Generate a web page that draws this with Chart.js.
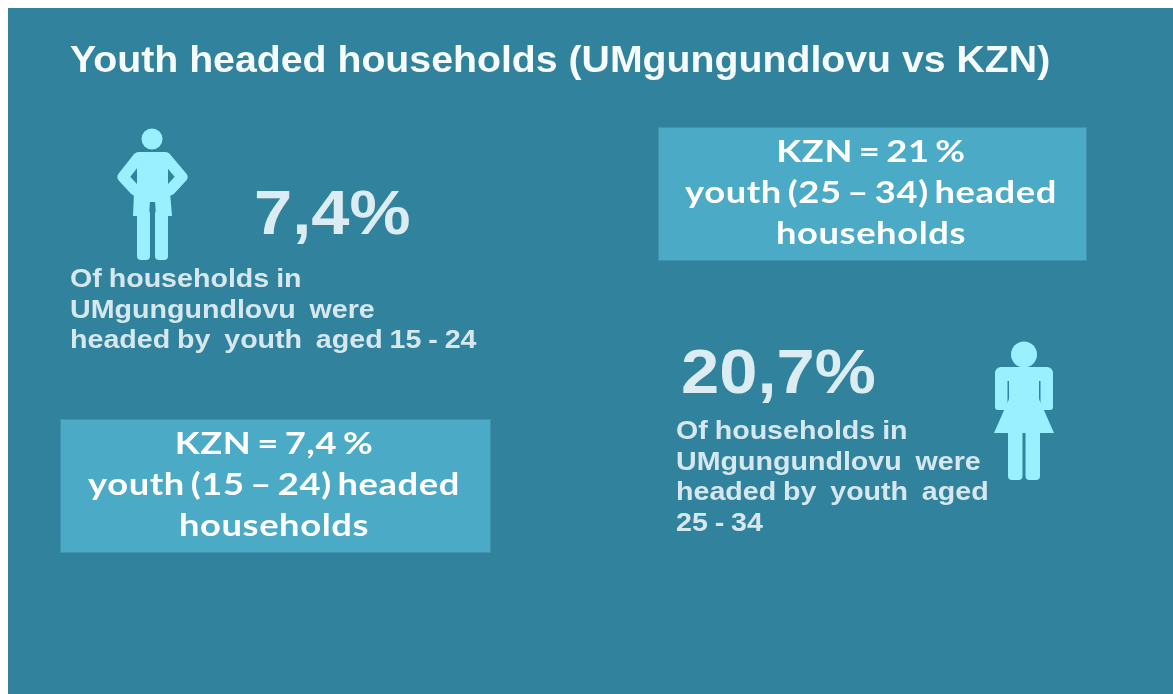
<!DOCTYPE html>
<html>
<head>
<meta charset="utf-8">
<title>Youth headed households</title>
<script src="https://cdn.jsdelivr.net/npm/chart.js@4/dist/chart.umd.min.js"></script>
<style>
  html, body { margin: 0; padding: 0; background: #fff; }
  canvas { display: block; filter: blur(0.5px); }
</style>
</head>
<body>
<canvas id="chart" width="1173" height="694"></canvas>
<script>
// values
const chartTitle = "Youth headed households (UMgungundlovu vs KZN)";
const ageGroups = ["15 - 24", "25 - 34"];
const ageGroupsDash = ["15 – 24", "25 – 34"];
const districtValues = [7.4, 20.7];
const kznValues = [7.4, 21];

const comma = v => String(v).replace(".", ",");

// layout, in page pixels
const PANEL = { x: 8, y: 8, color: "#31829d" };
const BOXES = [
  { x: 60, y: 419, w: 431, h: 134, cx: 274, baseline: 454 },
  { x: 658, y: 127, w: 429, h: 134, cx: 871, baseline: 162 }
];
const BIG = [
  { x: 254, y: 234 },
  { x: 681, y: 393 }
];
const NOTES = [
  { x: 70, y: 287, lines: ["Of households in", "UMgungundlovu  were", "headed by  youth  aged " + ageGroups[0]] },
  { x: 676, y: 439, lines: ["Of households in", "UMgungundlovu  were", "headed by  youth  aged", ageGroups[1]] }
];
const ICON_POS = [{ x: 150, y: 195 }, { x: 1025, y: 410 }];
const ICON_COLOR = "#9af0ff";

function roundBar(c, x, y, w, h, r) {
  c.beginPath();
  c.roundRect(x, y, w, h, r);
  c.fill();
}

function manIcon() {
  const cv = document.createElement("canvas");
  cv.width = 100; cv.height = 150;
  const c = cv.getContext("2d");
  c.fillStyle = ICON_COLOR;
  c.strokeStyle = ICON_COLOR;
  c.beginPath(); c.arc(52, 19, 10.5, 0, Math.PI * 2); c.fill();
  roundBar(c, 33, 32, 38, 14, 6);
  c.fillRect(37, 36, 31, 46);
  c.beginPath();
  c.moveTo(34, 72); c.lineTo(70, 72); c.lineTo(72, 96); c.lineTo(56, 96); c.lineTo(55, 81);
  c.lineTo(50, 81); c.lineTo(49, 96); c.lineTo(33, 96);
  c.closePath(); c.fill();
  roundBar(c, 37, 90, 13, 50, 4);
  roundBar(c, 55, 90, 13, 50, 4);
  // arms on the hips
  c.lineWidth = 11; c.lineCap = "round"; c.lineJoin = "round";
  c.beginPath(); c.moveTo(38, 38); c.lineTo(23, 57); c.lineTo(35, 70); c.stroke();
  c.beginPath(); c.moveTo(66, 38); c.lineTo(82, 57); c.lineTo(70, 70); c.stroke();
  return cv;
}

function womanIcon() {
  const cv = document.createElement("canvas");
  cv.width = 90; cv.height = 150;
  const c = cv.getContext("2d");
  c.fillStyle = ICON_COLOR;
  c.beginPath(); c.arc(44, 19.5, 13, 0, Math.PI * 2); c.fill();
  roundBar(c, 15, 32, 58, 14, 6);
  roundBar(c, 15, 36, 12.5, 39, 3);
  roundBar(c, 60.5, 36, 12.5, 39, 3);
  c.fillRect(29, 36, 30, 36);
  c.beginPath();
  c.moveTo(29, 64); c.lineTo(59, 64); c.lineTo(74, 98); c.lineTo(14, 98);
  c.closePath(); c.fill();
  roundBar(c, 28, 92, 14.5, 53, 4);
  roundBar(c, 45.5, 92, 14.5, 53, 4);
  return cv;
}

// the reference text is stretched sideways, so sx widens the glyphs
function wideText(ctx, text, x, y, o) {
  ctx.save();
  ctx.font = o.font;
  ctx.fillStyle = o.color;
  ctx.letterSpacing = (o.spacing || 0) + "px";
  ctx.wordSpacing = (o.wordSpacing || 0) + "px";
  ctx.textAlign = o.align || "left";
  ctx.textBaseline = "alphabetic";
  ctx.translate(x, y);
  ctx.scale(o.sx || 1, 1);
  ctx.fillText(text, 0, 0);
  ctx.restore();
}

const infographic = {
  id: "infographic",
  beforeDatasetsDraw(chart) {
    const { ctx, scales: { x, y } } = chart;
    ctx.save();
    ctx.fillStyle = PANEL.color;
    ctx.fillRect(x.getPixelForValue(PANEL.x), y.getPixelForValue(PANEL.y), chart.width, chart.height);
    BOXES.forEach(b => {
      ctx.fillStyle = "#4baac6";
      ctx.strokeStyle = "#3f93ae";
      ctx.lineWidth = 1;
      ctx.fillRect(x.getPixelForValue(b.x), y.getPixelForValue(b.y), b.w, b.h);
      ctx.strokeRect(x.getPixelForValue(b.x) + 0.5, y.getPixelForValue(b.y) + 0.5, b.w - 1, b.h - 1);
    });
    ctx.restore();
  },
  afterDatasetsDraw(chart) {
    const { ctx, scales: { x, y } } = chart;
    wideText(ctx, chartTitle, x.getPixelForValue(70), y.getPixelForValue(72),
      { font: 'bold 36px "Liberation Sans"', color: "#f6fbfc", sx: 1.09 });

    districtValues.forEach((v, i) => {
      wideText(ctx, comma(v) + "%", x.getPixelForValue(BIG[i].x), y.getPixelForValue(BIG[i].y),
        { font: 'bold 63px "Liberation Sans"', color: "#dcecf3", sx: 1.09 });
      NOTES[i].lines.forEach((line, j) => {
        wideText(ctx, line, x.getPixelForValue(NOTES[i].x), y.getPixelForValue(NOTES[i].y + j * 30.6),
          { font: 'bold 26.5px "Liberation Sans"', color: "#d6e8ee", wordSpacing: -1, sx: 1.08 });
      });
    });

    kznValues.forEach((v, i) => {
      const b = BOXES[i];
      const lines = ["KZN = " + comma(v) + " %", "youth (" + ageGroupsDash[i] + ") headed", "households"];
      lines.forEach((line, j) => {
        wideText(ctx, line, x.getPixelForValue(b.cx), y.getPixelForValue(b.baseline + j * 41),
          { font: "bold 30px Lato", color: "#ffffff", spacing: 0.5, wordSpacing: -3, sx: 1.21, align: "center" });
      });
    });
  }
};

new Chart(document.getElementById("chart").getContext("2d"), {
  type: "scatter",
  data: {
    datasets: [{
      label: "Youth headed households",
      data: ICON_POS,
      pointStyle: [manIcon(), womanIcon()],
      pointRadius: 10,
      showLine: false
    }]
  },
  options: {
    responsive: false,
    animation: false,
    events: [],
    layout: { padding: 0, autoPadding: false },
    plugins: { legend: { display: false }, tooltip: { enabled: false }, title: { display: false } },
    scales: {
      x: { type: "linear", min: 0, max: 1173, display: false },
      y: { type: "linear", min: 0, max: 694, reverse: true, display: false }
    }
  },
  plugins: [infographic]
});
</script>
</body>
</html>
